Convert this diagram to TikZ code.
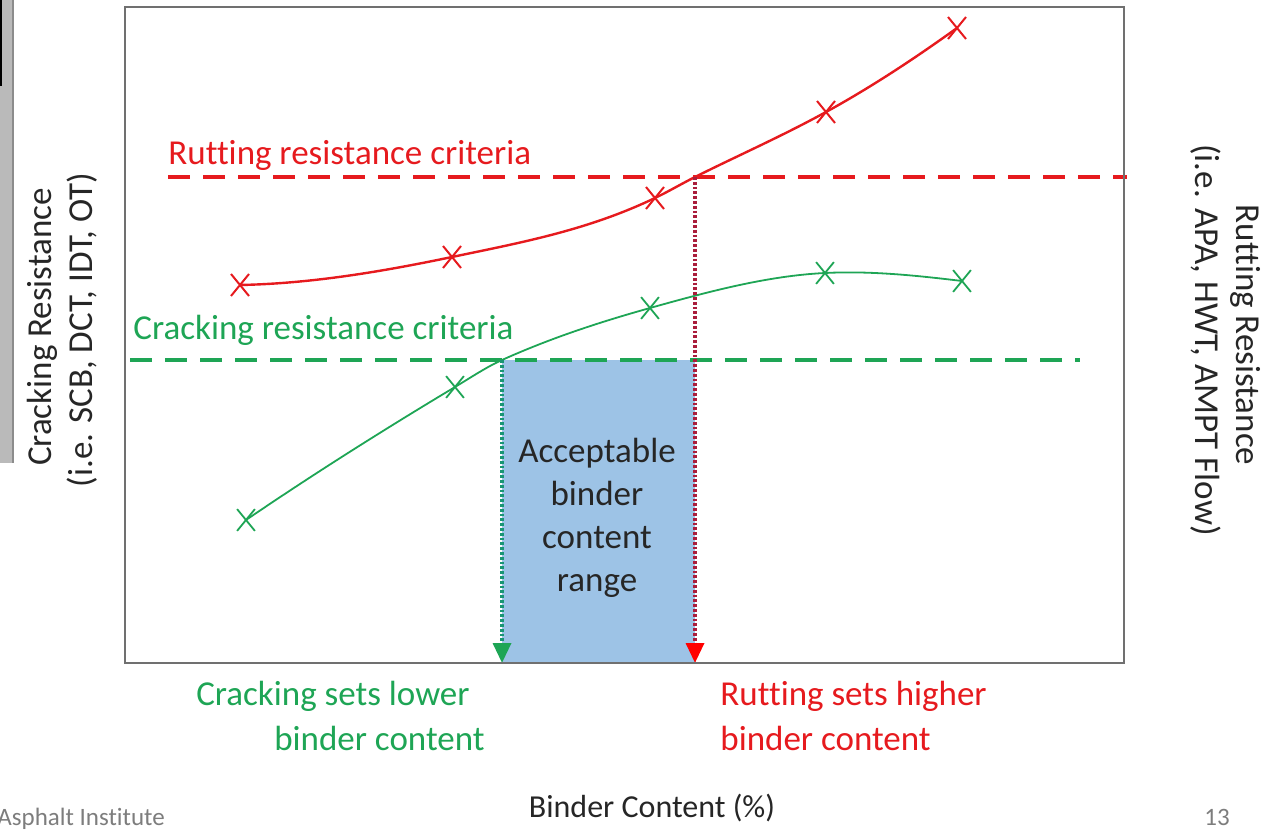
\documentclass[tikz,border=0pt]{standalone}
\usepackage{fontspec}
\setmainfont{Carlito}[Ligatures=NoCommon]
\usetikzlibrary{arrows.meta,shapes.misc}
\definecolor{rutred}{RGB}{230,26,30}
\definecolor{rutdot}{RGB}{170,30,60}
\definecolor{crkgreen}{RGB}{30,165,85}
\definecolor{crkdot}{RGB}{25,150,115}
\definecolor{rangeblue}{RGB}{157,195,230}
\definecolor{framegrey}{RGB}{112,112,112}
\definecolor{footgrey}{RGB}{125,125,125}
\tikzset{
  lbl/.style={font=\fontsize{17.5}{21}\selectfont, inner sep=0pt},
  rmark/.style={cross out, draw=rutred, line width=1pt, minimum width=8pt, minimum height=10pt, inner sep=0pt},
  gmark/.style={cross out, draw=crkgreen, line width=0.9pt, minimum width=8pt, minimum height=10pt, inner sep=0pt},
  crit/.style={dash pattern=on 11pt off 6.5pt, line width=2pt},
  drop/.style={dash pattern=on 1.4pt off 1pt, line width=1.7pt},
}
\begin{document}
\begin{tikzpicture}[x=0.5pt,y=-0.5pt]
\useasboundingbox (0,0) rectangle (1267,833);

% side panel at the left edge
\fill[black!27] (0,0) rectangle (13,463);
\draw[black!45, line width=1pt] (13,0) -- (13,463);
\draw[black, line width=1pt] (1,0) -- (1,85) -- (2,85);

% data points
\coordinate (r1) at (240,285);
\coordinate (r2) at (452,257);
\coordinate (r3) at (655,198);
\coordinate (r4) at (826,112);
\coordinate (r5) at (957,28);
\coordinate (g1) at (246,520);
\coordinate (g2) at (455,387);
\coordinate (g3) at (650,308);
\coordinate (g4) at (825,273);
\coordinate (g5) at (962,281);

% where each curve meets its criterion
\coordinate (rx) at (695,177);
\coordinate (gx) at (502,360);

% frame corners
\coordinate (fbl) at (125,663);
\coordinate (ftr) at (1124,7);
\coordinate (gfoot) at (gx |- fbl);
\coordinate (rfoot) at (rx |- fbl);

% acceptable range
\fill[rangeblue] (gx) rectangle (rfoot);
\node[lbl, align=center, font=\fontsize{17.5}{21.5}\selectfont, text=black!85] (rangetxt) at (597,518) {Acceptable\\binder\\content\\range};

\draw[rutred, crit] (168,177) -- (1127,177);
\draw[crkgreen, crit, line width=1.8pt] (130,360) -- (1080,360);

% rutting curve
\draw[rutred, line width=1.2pt] (r1)
  .. controls (310.7,283.6) and (381.3,271.8) .. (r2)
  .. controls (519.7,242.8) and (587.3,230.5) .. (r3)
  .. controls (668.3,191.6) and (681.7,183.7) .. (rx)
  .. controls (738.7,155.2) and (782.3,136.0) .. (r4)
  .. controls (869.7,88.0) and (913.3,59.5) .. (r5);
% cracking curve
\draw[crkgreen, line width=0.9pt] (g1)
  .. controls (315.7,472.6) and (385.3,428.8) .. (g2)
  .. controls (470.7,377.6) and (486.3,367.1) .. (gx)
  .. controls (551.3,337.8) and (600.7,321.8) .. (g3)
  .. controls (708.3,291.7) and (766.7,275.9) .. (g4)
  .. controls (870.7,270.7) and (916.3,275.5) .. (g5);

\foreach \p in {r1,r2,r3,r4,r5} \node[rmark] (m\p) at (\p) {};
\foreach \p in {g1,g2,g3,g4,g5} \node[gmark] (m\p) at (\p) {};

% drop lines to the binder content axis
\draw[crkdot, drop, -{Triangle[width=9pt,length=10pt,color=crkgreen]}] (gx) -- (gfoot);
\draw[rutdot, drop, -{Triangle[width=9pt,length=10pt,color=red]}] (rx) -- (rfoot);

\draw[framegrey, line width=1pt] (fbl) rectangle (ftr);

% labels
\node[lbl, text=rutred, anchor=base west] (rlabel) at (168,165) {Rutting resistance criteria};
\node[lbl, text=crkgreen, anchor=base west] (glabel) at (133,340) {Cracking resistance criteria};

\node[lbl, rotate=90, text=black!85] (yl1) at (42,327) {Cracking Resistance};
\node[lbl, rotate=90, text=black!85] (yl2) at (82,330) {(i.e. SCB, DCT, IDT, OT)};
\node[lbl, rotate=-90, text=black!85] (yr1) at (1246,335) {Rutting Resistance};
\node[lbl, rotate=-90, text=black!85] (yr2) at (1206,340) {(i.e. APA, HWT, AMPT Flow)};

\node[lbl, text=crkgreen, anchor=base east] (c1) at (470,705) {Cracking sets lower};
\node[lbl, text=crkgreen, anchor=base east] (c2) at (485,750) {binder content};
\node[lbl, text=rutred, anchor=base west] (t1) at (720,705) {Rutting sets higher};
\node[lbl, text=rutred, anchor=base west] (t2) at (720,750) {binder content};

\node[lbl, font=\fontsize{16}{20}\selectfont, text=black!85, anchor=base] (xlab) at (652,817) {Binder Content (\%)};
\node[lbl, font=\fontsize{12.5}{15}\selectfont, text=footgrey, anchor=base west] (org) at (-3,825) {Asphalt Institute};
\node[lbl, font=\fontsize{12.5}{15}\selectfont, text=footgrey, anchor=base] (page) at (1217,825) {13};
\end{tikzpicture}
\end{document}
